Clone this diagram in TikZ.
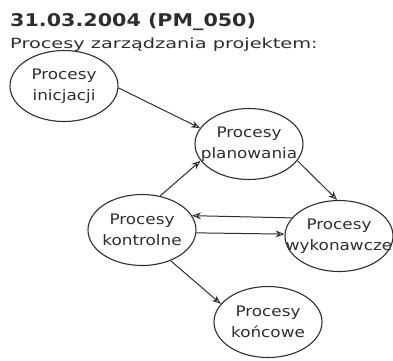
\documentclass[tikz,border=0pt]{standalone}
\usepackage{fontspec}
\usetikzlibrary{shapes.geometric,arrows.meta}
\newfontfamily\titlefont[FakeStretch=1.18]{DejaVu Sans}
\newfontfamily\subfont[FakeStretch=1.38]{DejaVu Sans}
\newfontfamily\bodyfont[FakeStretch=1.16]{DejaVu Sans}
\definecolor{ink}{gray}{0.18}
\tikzset{
  proc/.style={ellipse, draw=ink, line width=1.1pt, inner xsep=-20pt, inner ysep=0pt,
    minimum width=108pt, minimum height=71pt, align=center, text=ink,
    font=\bodyfont\fontsize{14.5}{21}\selectfont},
  flow/.style={draw=ink, line width=1pt, -{Stealth[length=9pt,width=7pt,open]}},
}
\begin{document}
\begin{tikzpicture}[x=1pt,y=-1pt]
\useasboundingbox (0,0) rectangle (393,360);
% heading
\node[anchor=base west, inner sep=0pt, text=ink, font=\titlefont\bfseries\fontsize{17.5}{20}\selectfont]
  (title) at (10,26) {31.03.2004 (PM\_050)};
\node[anchor=base west, inner sep=0pt, text=ink, font=\subfont\fontsize{14}{16}\selectfont]
  (subtitle) at (10,48) {Procesy zarządzania projektem:};
% process groups
\node[proc] (ini) at (64,86)  {Procesy\\inicjacji};
\node[proc] (pla) at (249,144) {Procesy\\planowania};
\node[proc] (kon) at (142,230) {Procesy\\kontrolne};
\node[proc] (wyk) at (339,236) {Procesy\\wykonawcze};
\node[proc] (kor) at (268,322) {Procesy\\końcowe};
% flows
\draw[flow] (ini.-2) -- (pla.162);
\draw[flow] (kon.62) -- (pla.199);
\draw[flow] (pla.-19) -- (wyk.93);
\draw[flow] (wyk.159) -- (kon.16);
\draw[flow] (kon.-3) -- (wyk.178);
\draw[flow] (kon.-47) -- (kor.159);
\end{tikzpicture}
\end{document}
